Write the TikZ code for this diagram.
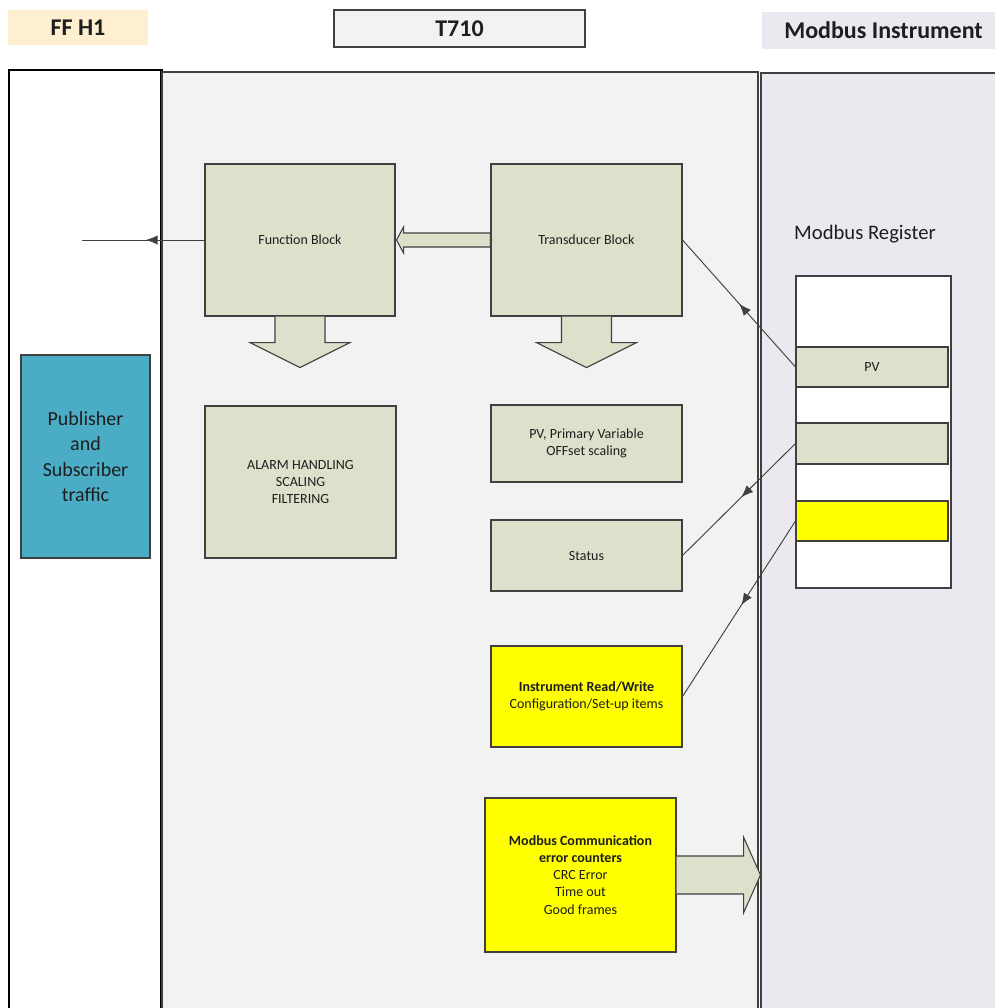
\documentclass[tikz,border=0pt]{standalone}
\usepackage{fontspec}
\setmainfont{Carlito}
\usetikzlibrary{arrows.meta,calc,decorations.markings}
\definecolor{blkfill}{RGB}{221,224,203}
\definecolor{midpanel}{RGB}{242,242,242}
\definecolor{rightpanel}{RGB}{235,232,240}
\definecolor{ffhead}{RGB}{253,239,208}
\definecolor{pubfill}{RGB}{75,172,198}
\definecolor{ylwfill}{RGB}{255,255,0}
\definecolor{edge}{RGB}{64,64,64}
\definecolor{txt}{RGB}{30,30,30}
\tikzset{
  box/.style={inner sep=0pt, draw=edge, line width=0.8pt, align=center, text=txt},
  blk/.style={box, fill=blkfill, font=\fontsize{10.5}{12.8}\selectfont},
  ylw/.style={box, fill=ylwfill, font=\fontsize{10.5}{12.8}\selectfont},
  hdr/.style={inner sep=0pt, font=\fontsize{18}{20}\selectfont\bfseries, text=txt},
  panel/.style={inner sep=0pt},
  blockarrow/.style={fill=blkfill, draw=edge, line width=0.8pt},
  link/.style={draw=edge, line width=0.7pt},
  midarrow/.style={link, postaction={decorate}, decoration={markings,
     mark=at position #1 with {\arrow{Latex[length=9pt,width=7pt]}}}},
}
% \rectnode{style}{name}{x1}{y1}{x2}{y2}{text}  (pixel corners)
\newcommand\rectnode[7]{%
  \node[#1, rectangle, minimum width={(#5-#3)*0.75pt}, minimum height={(#6-#4)*0.75pt}]
    (#2) at ({(#3+#5)/2},{(#4+#6)/2}) {#7};}
\begin{document}
\begin{tikzpicture}[x=0.75pt,y=-0.75pt]
\useasboundingbox (0,0) rectangle (995,1008);
\clip (0,0) rectangle (995,1008);
% headers
\rectnode{hdr, fill=ffhead}{hff}{8}{10}{148}{45}{FF H1}
\rectnode{hdr, fill=midpanel, draw=edge, line width=0.9pt}{ht}{334}{10}{585}{47}{T710}
\rectnode{hdr, fill=rightpanel}{hmb}{762}{12}{1005}{49}{Modbus Instrument}
% panels
\rectnode{panel, fill=white, draw=black, line width=0.8pt}{pff}{9}{70}{161}{1030}{}
\draw[black, line width=1.6pt] (pff.north east) -- (pff.south east);
\rectnode{panel, fill=midpanel, draw=edge, line width=0.8pt}{pt}{162}{72}{758}{1030}{}
\rectnode{panel, fill=rightpanel, draw=edge, line width=0.8pt}{pmb}{761}{73}{1010}{1030}{}
% left panel
\rectnode{box, fill=pubfill, font=\fontsize{15}{19}\selectfont}{pub}{21}{355}{150}{558}{Publisher\\and\\Subscriber\\traffic}
% T710 blocks
\rectnode{blk}{fb}{205}{164}{395}{316}{Function Block}
\rectnode{blk}{tb}{491}{164}{682}{316}{Transducer Block}
\rectnode{blk}{alarm}{205}{406}{396}{558}{ALARM HANDLING\\SCALING\\FILTERING}
\rectnode{blk}{pv}{491}{405}{682}{482}{PV, Primary Variable\\OFFset scaling}
\rectnode{blk}{st}{491}{520}{682}{591}{Status}
\rectnode{ylw}{irw}{491}{646}{682}{747}{\textbf{Instrument Read/Write}\\Configuration/Set-up items}
\rectnode{ylw}{mc}{485}{798}{676}{952}{\textbf{Modbus Communication}\\\textbf{error counters}\\CRC Error\\Time out\\Good frames}
% Modbus register
\node[font=\fontsize{15.5}{18}\selectfont, text=txt] (mbreg) at (865,234) {Modbus Register};
\rectnode{box, fill=white}{reg}{796}{276}{951}{588}{}
\rectnode{blk}{rpv}{796}{347}{948}{387}{PV}
\rectnode{blk}{rst}{796}{423}{948}{464}{}
\rectnode{ylw}{rrw}{796}{501}{948}{541}{}
% block arrows
\draw[blockarrow] ($(fb.south)+(-25,0)$) -- ($(fb.south)+(-25,26)$) -- ($(fb.south)+(-50,26)$)
  -- ($(fb.south)+(0,51)$) -- ($(fb.south)+(50,26)$) -- ($(fb.south)+(25,26)$) -- ($(fb.south)+(25,0)$);
\draw[blockarrow] ($(tb.south)+(-25,0)$) -- ($(tb.south)+(-25,26)$) -- ($(tb.south)+(-50,26)$)
  -- ($(tb.south)+(0,51)$) -- ($(tb.south)+(50,26)$) -- ($(tb.south)+(25,26)$) -- ($(tb.south)+(25,0)$);
\draw[blockarrow] ($(fb.east)+(1,0)$) -- ($(fb.east)+(8,-13)$) -- ($(fb.east)+(8,-7)$)
  -- ($(tb.west)+(0,-7)$) -- ($(tb.west)+(0,7)$) -- ($(fb.east)+(8,7)$) -- ($(fb.east)+(8,13)$) -- cycle;
\coordinate (mctip) at (pmb.west |- mc.east);
\draw[blockarrow] ($(mc.east)+(0,-19)$) -- ($(mc.east)+(67,-19)$) -- ($(mc.east)+(67,-38)$)
  -- (mctip) -- ($(mc.east)+(67,38)$) -- ($(mc.east)+(67,19)$) -- ($(mc.east)+(0,19)$);
% connectors
\coordinate (ffend) at (82,240);
\draw[midarrow=0.48] (fb.west) -- (ffend);
\draw[midarrow=0.5] (rpv.west) -- (tb.east);
\draw[midarrow=0.48] (rst.west) -- (st.east);
\draw[midarrow=0.48] (rrw.west) -- (irw.east);
\end{tikzpicture}
\end{document}
